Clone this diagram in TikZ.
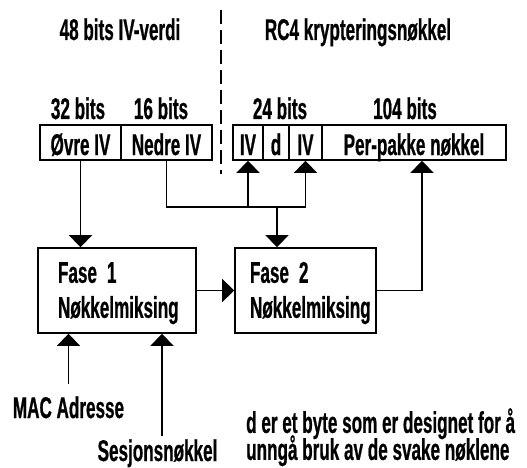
\documentclass[tikz,border=0pt]{standalone}
\usepackage{fontspec}
\setmainfont{Liberation Sans}[FakeStretch=0.57, BoldFeatures={FakeBold=0.6}]
\usetikzlibrary{arrows.meta}
\begin{document}
\begin{tikzpicture}[x=1pt,y=-1pt,
  every node/.style={font=\bfseries\fontsize{30}{35}\selectfont, inner sep=0pt},
  cell/.style={draw, line width=1.6pt, minimum height=35pt, text height=25pt, text depth=0pt},
  phase/.style={draw, line width=1.6pt, minimum height=85pt, align=left, text height=26pt},
  conn/.style={line width=1.4pt},
  arr/.style={conn, -{Triangle[length=12pt,width=23pt]}}]
\useasboundingbox (0,0) rectangle (527,468);

% headings
\node[anchor=base] (h48) at (120,40) {48 bits IV-verdi};
\node[anchor=base] (hrc4) at (358,40) {RC4 krypteringsnøkkel};
\draw[line width=1.4pt, dash pattern=on 14pt off 6pt] (221,10) -- (221,174);

% bit labels
\node[anchor=base] (b32) at (78,119) {32 bits};
\node[anchor=base] (b16) at (161,119) {16 bits};
\node[anchor=base] (b24) at (280,119) {24 bits};
\node[anchor=base] (b104) at (405,119) {104 bits};

% cells
\node[cell, minimum width=81pt] (ovre) at (80.5,142.5) {Øvre IV};
\node[cell, minimum width=91pt] (nedre) at (166.5,142.5) {Nedre IV};
\node[cell, minimum width=30pt] (iv1) at (248,142.5) {IV};
\node[cell, minimum width=26pt] (d) at (276,142.5) {d};
\node[cell, minimum width=33pt] (iv2) at (305.5,142.5) {IV};
\node[cell, minimum width=184pt] (per) at (414,142.5) {Per-pakke nøkkel};

% phases
\node[phase, minimum width=158pt, text width=118pt] (fase1) at (117,290.5) {Fase 1\\Nøkkelmiksing};
\node[phase, minimum width=141pt, text width=111pt] (fase2) at (305.5,290.5) {Fase 2\\Nøkkelmiksing};

% connectors
\coordinate (j) at (277,207);
\draw[arr] (ovre.south) -- (ovre.south |- fase1.north);
\draw[conn] (nedre.south) |- (iv2.south |- j);
\draw[arr] (iv1.south |- j) -- (iv1.south);
\draw[arr] (iv2.south |- j) -- (iv2.south);
\draw[arr] (j) -- (j |- fase2.north);
\draw[arr] (fase1.east) -- (fase2.west);
\draw[arr] (fase2.east) -| ([xshift=8pt]per.south);

% inputs
\node[anchor=base] (mac) at (68.5,418) {MAC Adresse};
\node[anchor=base] (ses) at (157.5,461) {Sesjonsnøkkel};
\draw[arr] ([yshift=12pt]mac.north) -- (mac.north |- fase1.south);
\draw[arr] ([xshift=4.5pt,yshift=3pt]ses.north) -- ([xshift=4.5pt]ses.north |- fase1.south);

% note
\node[anchor=north west, align=left, font={\bfseries\fontsize{30}{27}\selectfont\lineskiplimit=-30pt}] (note) at (246,408)
  {d er et byte som er designet for å\\unngå bruk av de svake nøklene};
\end{tikzpicture}
\end{document}
